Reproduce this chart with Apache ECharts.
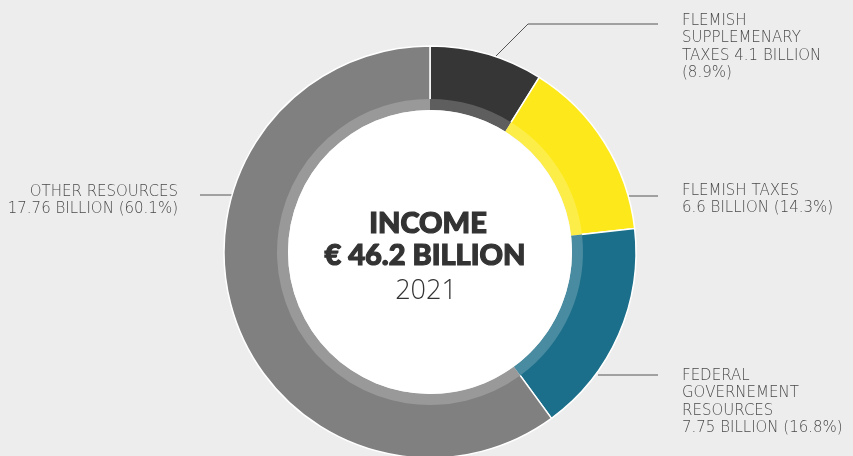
<!DOCTYPE html>
<html>
<head>
<meta charset="utf-8">
<script src="https://cdn.jsdelivr.net/npm/echarts@6/dist/echarts.min.js"></script>
<style>
  html, body { margin: 0; padding: 0; background: #ededed; }
  #chart { width: 853px; height: 456px; }
</style>
</head>
<body>
<div id="chart"></div>
<script>
// Income 2021, split by source
const categories = ['FLEMISH SUPPLEMENARY TAXES', 'FLEMISH TAXES', 'FEDERAL GOVERNEMENT RESOURCES', 'OTHER RESOURCES'];
const billions = [4.1, 6.6, 7.75, 17.76];
const shares = [8.9, 14.3, 16.8, 60.1];
const colors = ['#363636', '#fde91b', '#1c6f8a', '#808080'];
const titleText = 'INCOME';
const totalText = '€ 46.2 BILLION';
const yearText = '2021';

// Line-broken label text per slice
const labelTexts = [
  'FLEMISH\nSUPPLEMENARY\nTAXES ' + billions[0] + ' BILLION\n(' + shares[0] + '%)',
  'FLEMISH TAXES\n' + billions[1] + ' BILLION (' + shares[1] + '%)',
  'FEDERAL\nGOVERNEMENT\nRESOURCES\n' + billions[2] + ' BILLION (' + shares[2] + '%)',
  'OTHER RESOURCES\n' + billions[3] + ' BILLION (' + shares[3] + '%)'
];

// Label placement and leader-line paths
const labelPlacement = [
  { x: 682, y: 12, align: 'left', line: [[496, 56], [528, 24], [658, 24]] },
  { x: 682, y: 182, align: 'left', line: [[629, 196], [658, 196]] },
  { x: 682, y: 367, align: 'left', line: [[598, 375], [658, 375]] },
  { x: 178, y: 183, align: 'right', line: [[200, 195], [233, 195]] }
];

function lighten(hex, amt) {
  const n = parseInt(hex.slice(1), 16);
  const r = (n >> 16) & 255, g = (n >> 8) & 255, b = n & 255;
  const f = c => Math.round(c + (255 - c) * amt);
  return 'rgb(' + f(r) + ',' + f(g) + ',' + f(b) + ')';
}

const center = [430, 252];
const labelFont = '"DejaVu Sans", "Open Sans", sans-serif';
const heavyFont = '"Lato", "DejaVu Sans", sans-serif';

const outerData = categories.map((name, i) => ({
  name: name,
  value: shares[i],
  itemStyle: { color: colors[i] }
}));
const bandData = categories.map((name, i) => ({
  name: name,
  value: shares[i],
  itemStyle: { color: lighten(colors[i], 0.2) }
}));

const heavyStyle = {
  fill: '#333333',
  stroke: '#333333',
  lineWidth: 1.2,
  font: '900 29px ' + heavyFont,
  align: 'center',
  verticalAlign: 'middle'
};

const chart = echarts.init(document.getElementById('chart'), null, { renderer: 'canvas' });
chart.setOption({
  backgroundColor: '#ededed',
  animation: false,
  series: [
    {
      type: 'pie',
      center: center,
      radius: [150, 206],
      startAngle: 90,
      clockwise: true,
      silent: true,
      data: outerData,
      itemStyle: { borderColor: '#ffffff', borderWidth: 1.5 },
      label: {
        show: true,
        position: 'outside',
        formatter: p => labelTexts[p.dataIndex],
        color: '#4a4a4a',
        fontFamily: labelFont,
        fontWeight: 200,
        fontSize: 15,
        lineHeight: 17.5
      },
      labelLine: { show: true, length: 10, length2: 10, lineStyle: { color: '#555555', width: 1 } },
      labelLayout: function (params) {
        const p = labelPlacement[params.dataIndex];
        return {
          x: p.x,
          y: p.y,
          align: p.align,
          verticalAlign: 'top',
          labelLinePoints: p.line
        };
      }
    },
    {
      type: 'pie',
      center: center,
      radius: [142, 153],
      startAngle: 90,
      clockwise: true,
      silent: true,
      data: bandData,
      label: { show: false },
      labelLine: { show: false }
    },
    {
      type: 'pie',
      center: center,
      radius: [0, 142],
      silent: true,
      data: [{ value: 1, itemStyle: { color: '#ffffff' } }],
      label: { show: false },
      labelLine: { show: false }
    }
  ],
  graphic: {
    elements: [
      {
        type: 'text',
        z: 100,
        x: center[0] - 2,
        y: 224,
        style: Object.assign({ text: titleText }, heavyStyle)
      },
      {
        type: 'text',
        z: 100,
        x: center[0] - 5,
        y: 256,
        style: Object.assign({ text: totalText }, heavyStyle)
      },
      {
        type: 'text',
        z: 100,
        x: center[0] - 4,
        y: 291,
        style: {
          text: yearText,
          fill: '#333333',
          font: '300 27px "Open Sans", "Lato", sans-serif',
          align: 'center',
          verticalAlign: 'middle'
        }
      }
    ]
  }
});
</script>
</body>
</html>
